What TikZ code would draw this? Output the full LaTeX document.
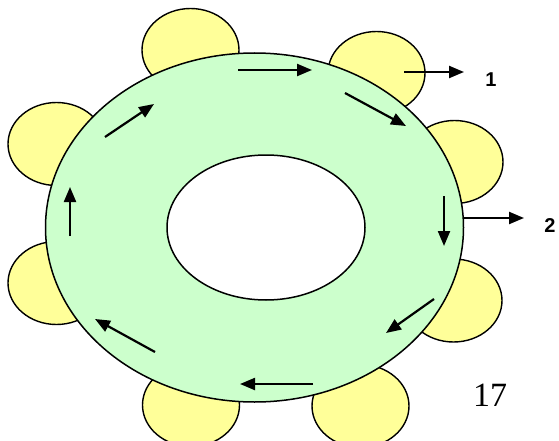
\documentclass[tikz,border=0pt]{standalone}
\usepackage{fontspec}
\setmainfont{Liberation Serif}
\newfontfamily\labfont{Liberation Sans}
\usetikzlibrary{arrows.meta,shapes.geometric}
\definecolor{ringgreen}{HTML}{CCFFCC}
\definecolor{budyellow}{HTML}{FFFF99}
\begin{document}
\begin{tikzpicture}[x=1pt,y=-1pt,
  bud/.style={ellipse,draw=black,line width=1.4pt,fill=budyellow,minimum width=97pt,minimum height=83pt,inner sep=0pt},
  ringstyle/.style={ellipse,draw=black,line width=1.5pt,fill=ringgreen,inner sep=0pt},
  holestyle/.style={ellipse,draw=black,line width=1.5pt,fill=white,inner sep=0pt},
  flow/.style={line width=2.2pt,-{Triangle[length=15pt,width=12pt]}},
  outlabel/.style={font=\labfont\bfseries\fontsize{20}{20}\selectfont,inner sep=0pt}]
\useasboundingbox (0,0) rectangle (559,441);
\clip (0,0) rectangle (559,441);
% buds
\node[bud] (b1) at (190.5,50) {};
\node[bud] (b2) at (376.5,73) {};
\node[bud] (b3) at (454.5,162) {};
\node[bud] (b4) at (453.5,300.5) {};
\node[bud] (b5) at (360.5,406) {};
\node[bud] (b6) at (191,405) {};
\node[bud] (b7) at (56.5,283) {};
\node[bud] (b8) at (56.5,144) {};
% ring
\node[ringstyle,minimum width=418pt,minimum height=349pt] (ring) at (254.5,227.5) {};
\node[holestyle,minimum width=198pt,minimum height=145pt] (hole) at (266,227.5) {};
% flow arrows
\coordinate (a1s) at (238,70);  \coordinate (a1e) at (312,70);
\coordinate (a2s) at (345,93);  \coordinate (a2e) at (406,126);
\coordinate (a3s) at (444,196); \coordinate (a3e) at (444,246);
\coordinate (a4s) at (434,299); \coordinate (a4e) at (386,333);
\coordinate (a5s) at (313,384); \coordinate (a5e) at (240,384);
\coordinate (a6s) at (155,352); \coordinate (a6e) at (95,319);
\coordinate (a7s) at (70,236);  \coordinate (a7e) at (70,187);
\coordinate (a8s) at (105,137); \coordinate (a8e) at (154,104);
\draw[flow] (a1s) -- (a1e);
\draw[flow] (a2s) -- (a2e);
\draw[flow] (a3s) -- (a3e);
\draw[flow] (a4s) -- (a4e);
\draw[flow] (a5s) -- (a5e);
\draw[flow] (a6s) -- (a6e);
\draw[flow] (a7s) -- (a7e);
\draw[flow] (a8s) -- (a8e);
% outputs
\coordinate (o1s) at (404,72);
\coordinate (o1e) at (464,72);
\node[outlabel] (l1) at (491,80) {1};
\draw[flow] (o1s) -- (o1e);
\node[outlabel] (l2) at (550,226) {2};
\coordinate (o2s) at (463,218);
\coordinate (o2e) at (524,218);
\draw[flow] (o2s) -- (o2e);
% page number
\node[font=\fontsize{34}{34}\selectfont,inner sep=0pt] (pg) at (490,395) {17};
\end{tikzpicture}
\end{document}
